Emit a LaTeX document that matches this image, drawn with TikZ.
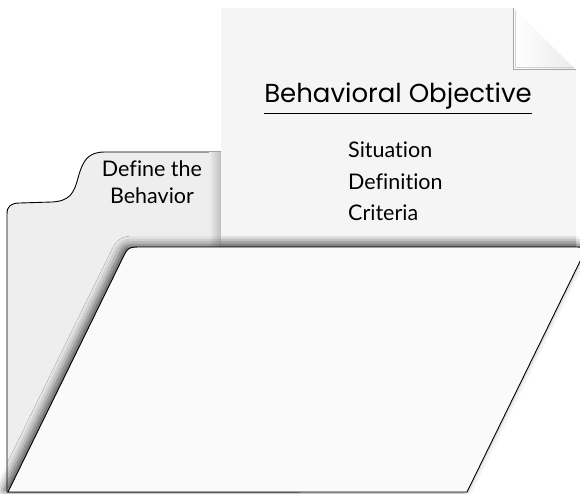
\documentclass[tikz,border=0pt]{standalone}
\usepackage{fontspec}
\newfontfamily\titlefont{Poppins}
\newfontfamily\bodyfont{Lato}[Ligatures=NoCommon]
\usetikzlibrary{shadows.blur,calc}
\definecolor{backc}{HTML}{EEEEEE}
\definecolor{paperc}{HTML}{F5F5F5}
\definecolor{flapc}{HTML}{FAFAFA}
\definecolor{shadec}{HTML}{BEBEBE}
\tikzset{
  outline/.style={draw=black, line width=0.9pt, line join=round},
  titletext/.style={font=\titlefont\fontsize{26}{30}\selectfont, inner sep=0pt, text=black},
  itemtext/.style={font=\bodyfont\fontsize{21.5}{25}\selectfont, inner sep=0pt, text=black},
}
\begin{document}
\begin{tikzpicture}[x=1pt,y=-1pt]
\useasboundingbox (0,0) rectangle (580,494);
% back folder with tab
\path[outline, fill=backc] (7,492) -- (7,214) .. controls (7,206) and (11,203) .. (20,203)
  -- (52,202) .. controls (70,201) and (74,193) .. (78,178)
  .. controls (83,160) and (88,152) .. (105,152) -- (300,152) -- (300,492) -- cycle;
% shadow of the sheet on the folder
\shade[left color=backc, right color=shadec] (209,153) rectangle (221,247);
% sheet
\fill[paperc] (221,8) -- (513,8) -- (576,70) -- (576,247) -- (221,247) -- cycle;
\shade[top color=paperc, bottom color=shadec] (221,234) rectangle (576,247);
% folded corner
\fill[white] (513,8) -- (576,70) -- (513,70) -- cycle;
\shade[left color=white, right color=white!92!black] (513,8) -- (576,70) -- (513,70) -- cycle;
\draw[gray!70, line width=1.2pt] (513.5,8) -- (513.5,69.5) -- (576,69.5);
\draw[gray!35, line width=1pt] (515,10) -- (515,68) -- (574,68);
% front flap
\path[outline, fill=flapc, blur shadow={shadow xshift=-4pt, shadow yshift=2pt, shadow blur radius=9pt, shadow opacity=70}]
  (8,492) -- (121.9,259.6) .. controls (128,247) .. (142,247) -- (573,247)
  .. controls (587,247) .. (580.9,259.6) -- (467,492) -- cycle;
% texts
\node[titletext, anchor=base] (title) at (398,103) {Behavioral Objective};
\draw[line width=0.8pt] ($(title.base west)+(0,10)$) coordinate (ulA) -- ($(title.base east)+(0,10)$) coordinate (ulB);
\node[itemtext, anchor=base west] (sit) at (348,158) {Situation};
\node[itemtext, anchor=base west] (def) at (348,190) {Definition};
\node[itemtext, anchor=base west] (cri) at (348,221) {Criteria};
\node[itemtext, anchor=base] (tab1) at (152,177) {Define the};
\node[itemtext, anchor=base] (tab2) at (152,204) {Behavior};
\end{tikzpicture}
\end{document}
